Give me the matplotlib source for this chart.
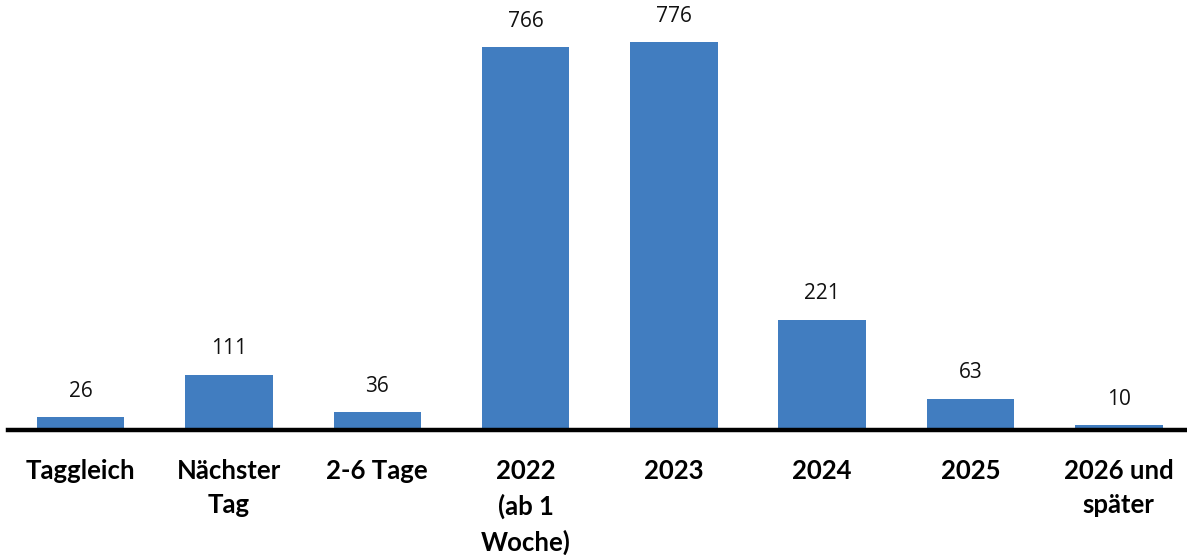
import matplotlib
matplotlib.use("Agg")
import matplotlib.pyplot as plt

categories = ["Taggleich", "Nächster\nTag", "2-6 Tage", "2022\n(ab 1\nWoche)",
              "2023", "2024", "2025", "2026 und\nspäter"]
values = [26, 111, 36, 766, 776, 221, 63, 10]

bar_color = "#417DC0"

fig = plt.figure(figsize=(11.87, 5.55), dpi=100)
ax = fig.add_axes([8 / 1187, 125 / 555, 1 - 8 / 1187, 430 / 555])

x = list(range(len(categories)))
ax.bar(x, values, width=0.59, color=bar_color, zorder=2)

for xi, v in zip(x, values):
    ax.annotate(str(v), (xi, v), xytext=(0, 11), textcoords="offset points",
                ha="center", va="bottom", fontsize=15, family="Open Sans",
                color="#111111")

ax.set_xlim(-0.49, 7.46)
ax.set_ylim(0, 860)

for s in ["top", "right", "left"]:
    ax.spines[s].set_visible(False)
ax.spines["bottom"].set_linewidth(3.2)
ax.spines["bottom"].set_color("black")
ax.spines["bottom"].set_zorder(3)
ax.set_yticks([])
ax.set_xticks(x)
ax.set_xticklabels(categories, fontsize=18.5, fontweight="bold", family="Lato",
                   linespacing=1.5)
ax.tick_params(axis="x", length=0, pad=21)

fig.savefig("out.png", dpi=100)
